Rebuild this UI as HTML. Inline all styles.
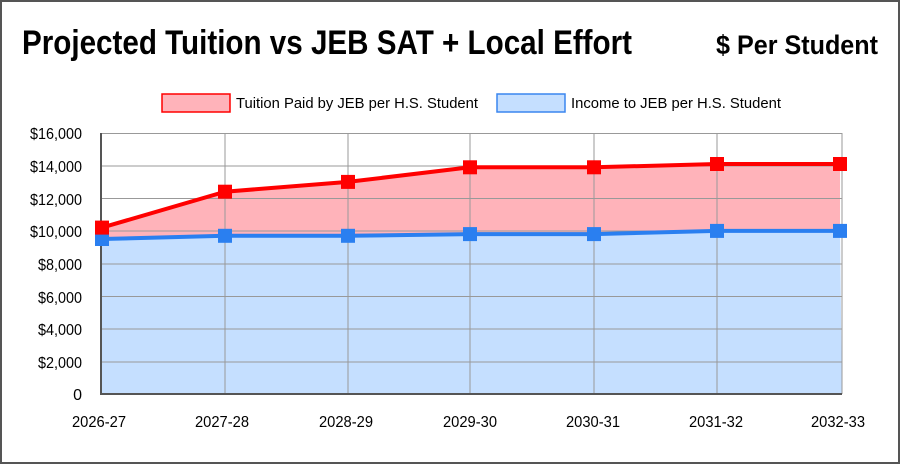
<!DOCTYPE html>
<html><head><meta charset="utf-8"><style>
html,body{margin:0;padding:0;background:#fff}
svg{display:block}
text{font-family:"Liberation Sans Narrow","Liberation Sans",sans-serif}
</style></head><body>
<svg width="900" height="464" viewBox="0 0 900 464" xmlns="http://www.w3.org/2000/svg">
<rect x="1" y="1" width="898" height="462" fill="#fff" stroke="#555" stroke-width="2"/>
<text x="22" y="54" font-size="34" font-weight="bold" fill="#000" textLength="610" lengthAdjust="spacingAndGlyphs">Projected Tuition vs JEB SAT + Local Effort</text>
<text x="878" y="54" font-size="27" font-weight="bold" fill="#000" text-anchor="end" textLength="162" lengthAdjust="spacingAndGlyphs">$ Per Student</text>
<rect x="162" y="94" width="68" height="18" fill="#ffb3ba" stroke="#ff0000" stroke-width="1.5"/>
<text x="236" y="108" font-size="15" textLength="242" lengthAdjust="spacingAndGlyphs">Tuition Paid by JEB per H.S. Student</text>
<rect x="497" y="94" width="68" height="18" fill="#c5dfff" stroke="#3a86ef" stroke-width="1.5"/>
<text x="571" y="108" font-size="15" textLength="210" lengthAdjust="spacingAndGlyphs">Income to JEB per H.S. Student</text>
<rect x="100" y="133" width="742" height="261" fill="#fff"/>
<polygon points="102,227.6 225,191.7 348,181.9 470,167.3 594,167.3 717,164 840,164 840,230.9 717,230.9 594,234.1 470,234.1 348,235.8 225,235.8 102,239" fill="#ffb3ba"/>
<polygon points="102,239 225,235.8 348,235.8 470,234.1 594,234.1 717,230.9 840,230.9 842,394 100,394" fill="#c5dfff"/>
<g stroke="#999" stroke-width="1">
<line x1="100" y1="133.5" x2="842" y2="133.5"/>
<line x1="100" y1="166" x2="842" y2="166"/>
<line x1="100" y1="198.5" x2="842" y2="198.5"/>
<line x1="100" y1="231" x2="842" y2="231"/>
<line x1="100" y1="264" x2="842" y2="264"/>
<line x1="100" y1="296.5" x2="842" y2="296.5"/>
<line x1="100" y1="329" x2="842" y2="329"/>
<line x1="100" y1="362" x2="842" y2="362"/>
<line x1="225" y1="133" x2="225" y2="394"/>
<line x1="348" y1="133" x2="348" y2="394"/>
<line x1="470" y1="133" x2="470" y2="394"/>
<line x1="594" y1="133" x2="594" y2="394"/>
<line x1="717" y1="133" x2="717" y2="394"/>
<line x1="842" y1="133" x2="842" y2="394"/>
</g>
<line x1="101" y1="133" x2="101" y2="395" stroke="#555" stroke-width="2"/>
<line x1="100" y1="394" x2="842" y2="394" stroke="#555" stroke-width="2"/>
<polyline points="102,227.6 225,191.7 348,181.9 470,167.3 594,167.3 717,164 840,164" fill="none" stroke="#ff0000" stroke-width="4"/>
<polyline points="102,239 225,235.8 348,235.8 470,234.1 594,234.1 717,230.9 840,230.9" fill="none" stroke="#2a7ff0" stroke-width="4"/>
<g fill="#2a7ff0">
<rect x="95" y="232" width="14" height="14"/><rect x="218" y="228.8" width="14" height="14"/><rect x="341" y="228.8" width="14" height="14"/><rect x="463" y="227.1" width="14" height="14"/><rect x="587" y="227.1" width="14" height="14"/><rect x="710" y="223.9" width="14" height="14"/><rect x="833" y="223.9" width="14" height="14"/>
</g>
<g fill="#ff0000">
<rect x="95" y="220.6" width="14" height="14"/><rect x="218" y="184.7" width="14" height="14"/><rect x="341" y="174.9" width="14" height="14"/><rect x="463" y="160.3" width="14" height="14"/><rect x="587" y="160.3" width="14" height="14"/><rect x="710" y="157" width="14" height="14"/><rect x="833" y="157" width="14" height="14"/>
</g>
<g font-size="16" text-anchor="end" fill="#000" lengthAdjust="spacingAndGlyphs">
<text x="82" y="139" textLength="52" lengthAdjust="spacingAndGlyphs">$16,000</text>
<text x="82" y="172" textLength="52" lengthAdjust="spacingAndGlyphs">$14,000</text>
<text x="82" y="205" textLength="52" lengthAdjust="spacingAndGlyphs">$12,000</text>
<text x="82" y="237" textLength="52" lengthAdjust="spacingAndGlyphs">$10,000</text>
<text x="82" y="270" textLength="44" lengthAdjust="spacingAndGlyphs">$8,000</text>
<text x="82" y="303" textLength="44" lengthAdjust="spacingAndGlyphs">$6,000</text>
<text x="82" y="335" textLength="44" lengthAdjust="spacingAndGlyphs">$4,000</text>
<text x="82" y="368" textLength="44" lengthAdjust="spacingAndGlyphs">$2,000</text>
<text x="82" y="400">0</text>
</g>
<g font-size="16" text-anchor="middle" fill="#000">
<text x="99" y="427" textLength="54" lengthAdjust="spacingAndGlyphs">2026-27</text>
<text x="222" y="427" textLength="54" lengthAdjust="spacingAndGlyphs">2027-28</text>
<text x="346" y="427" textLength="54" lengthAdjust="spacingAndGlyphs">2028-29</text>
<text x="470" y="427" textLength="54" lengthAdjust="spacingAndGlyphs">2029-30</text>
<text x="593" y="427" textLength="54" lengthAdjust="spacingAndGlyphs">2030-31</text>
<text x="716" y="427" textLength="54" lengthAdjust="spacingAndGlyphs">2031-32</text>
<text x="838" y="427" textLength="54" lengthAdjust="spacingAndGlyphs">2032-33</text>
</g>
</svg>
</body></html>
